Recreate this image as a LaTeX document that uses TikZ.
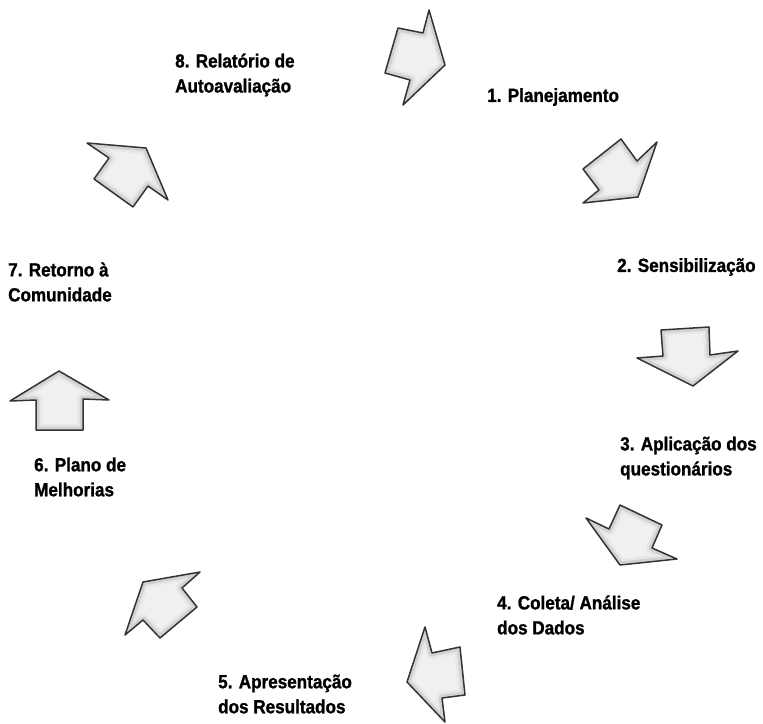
\documentclass[tikz,border=0pt]{standalone}
\usepackage{fontspec}
\newfontfamily\stagefont[FakeStretch=0.9,BoldFeatures={FakeBold=1.2}]{Liberation Sans}
\usepackage{tikz}
\usetikzlibrary{positioning}

% block arrow with a soft inner shadow
\newcommand\stagearrow[1]{%
  \begin{scope}
    \clip #1;
    \fill[gray!12] #1;
    \draw[gray!45, line width=7pt, line join=round] #1;
    \draw[gray!25, line width=12pt, line join=round, opacity=0.5] #1;
  \end{scope}
  \draw[cyclearrow] #1;}

\begin{document}
\begin{tikzpicture}[x=1pt,y=-1pt,
  cyclearrow/.style={draw=black!80, line width=1.5pt, line join=round},
  stage/.style={font=\stagefont\bfseries\fontsize{19}{25}\selectfont, align=left, anchor=west, inner sep=0pt}]
\useasboundingbox (0,0) rectangle (763,723);

% Stages
\node[stage] (rel) at (175,75) {8. Relatório de\\Autoavaliação};
\node[stage] (plan) at (487,97) {1. Planejamento};
\node[stage] (sens) at (617,267) {2. Sensibilização};
\node[stage] (apl) at (620,458) {3. Aplicação dos\\questionários};
\node[stage] (col) at (497,615) {4. Coleta/ Análise\\dos Dados};
\node[stage] (apr) at (218,694) {5. Apresentação\\dos Resultados};
\node[stage] (mel) at (34,477) {6. Plano de\\Melhorias};
\node[stage] (ret) at (8,282) {7. Retorno à\\Comunidade};

% Arrows between stages
\stagearrow{(398,28) -- (423,33) -- (429,10) -- (445,65) -- (403,105) -- (410,80) -- (385,73) -- cycle}
\stagearrow{(583,169) -- (621,139) -- (637,161) -- (657,142) -- (638,197) -- (583,203) -- (599,190) -- cycle}
\stagearrow{(661,330) -- (709,327) -- (710,355) -- (738,351) -- (693,386) -- (637,358) -- (663,356) -- cycle}
\stagearrow{(620,505) -- (662,525) -- (652,548) -- (677,559) -- (620,565) -- (586,518) -- (609,529) -- cycle}
\stagearrow{(460,647) -- (465,695) -- (442,698) -- (445,722) -- (407,682) -- (425,627) -- (432,653) -- cycle}
\stagearrow{(197,607) -- (160,638) -- (143,620) -- (125,635) -- (143,582) -- (200,572) -- (182,588) -- cycle}
\stagearrow{(83,430) -- (36,430) -- (36,400) -- (10,401) -- (59,371) -- (109,400) -- (83,399) -- cycle}
\stagearrow{(133,207) -- (94,179) -- (109,158) -- (87,143) -- (146,148) -- (168,200) -- (148,186) -- cycle}
\end{tikzpicture}
\end{document}
